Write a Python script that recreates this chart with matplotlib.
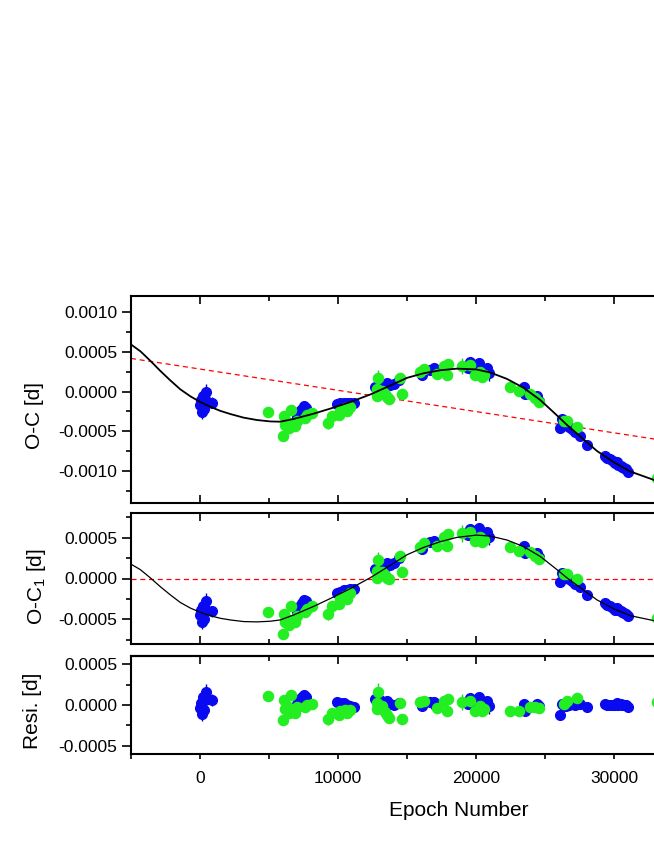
import matplotlib.pyplot as plt
import numpy as np
from matplotlib.ticker import MultipleLocator, FuncFormatter

plt.rcParams['font.family'] = ['Liberation Sans', 'DejaVu Sans']
plt.rcParams['mathtext.fontset'] = 'custom'
plt.rcParams['mathtext.rm'] = 'Liberation Sans'

# blue minima: epoch, O-C1 [d], error [d]
blue_E = [-30, 140, 380, 450, 250, 860, 300, 100,
          7510, 7270, 7025, 7400, 7700,
          9920, 10400, 10890, 11130, 10150, 10650,
          12700, 13540, 13300, 14030, 14400, 13800, 13050,
          16090, 16930, 17050, 16700,
          19590, 20190, 20800, 20920, 19830, 19400, 20500,
          23450, 23570, 24420, 24600,
          26110, 26230, 26350, 26710, 26950, 27200, 27560, 28040, 26500,
          29370, 29500, 29700, 29900, 30100, 30300, 30500, 30700, 30850, 30990, 30200, 30600]
blue_oc1 = [-0.00045, -0.00053, -0.00037, -0.00028, -0.00033, -0.00040, -0.00049, -0.00039,
            -0.000265, -0.000333, -0.000414, -0.00030, -0.00028,
            -0.000173, -0.000145, -0.000133, -0.000125, -0.00016, -0.00014,
            0.000116, 0.000189, 0.000088, 0.000189, 0.000249, 0.00017, 0.00015,
            0.000357, 0.000462, 0.00043, 0.00044,
            0.00061, 0.00062, 0.00057, 0.00051, 0.00051, 0.00053, 0.00054,
            0.0004, 0.00031, 0.00031, 0.00026,
            -0.000044, 0.00007, 0.00003, -0.00001, -0.00003, -0.00007, -0.0001, -0.0002, 0.00001,
            -0.000305, -0.000325, -0.00034, -0.00036, -0.00038, -0.00039, -0.0004, -0.00042, -0.00043,
            -0.000462, -0.00036, -0.00041]
blue_err = [0.00008, 0.00009, 0.00007, 0.0001, 0.00006, 0.00007, 0.00008, 0.00006,
            0.00003, 0.00004, 0.00003, 0.00003, 0.00003,
            0.00003, 0.00003, 0.00003, 0.00003, 0.00003, 0.00003,
            0.00005, 0.00004, 0.00005, 0.00003, 0.00003, 0.00004, 0.00005,
            0.00003, 0.00003, 0.00003, 0.00003,
            0.00003, 0.00003, 0.00003, 0.0001, 0.00004, 0.00003, 0.00003,
            0.00003, 0.00003, 0.00003, 0.00003,
            0.00003, 0.00004, 0.00003, 0.00003, 0.00003, 0.00003, 0.00003, 0.00003, 0.00003,
            0.00002, 0.00002, 0.00002, 0.00002, 0.00002, 0.00002, 0.00002, 0.00002, 0.00002,
            0.00002, 0.00002, 0.00002]

# green minima
green_E = [4925, 5990, 6180, 6590, 6060, 6420, 6900, 6300, 7750, 8110, 7630, 7000,
           9270, 9560, 10040, 10650, 10160, 10530, 10900,
           12870, 12820, 12820, 13540, 13660, 14520, 14640, 13170, 13400,
           15920, 16210, 17170, 17660, 17950, 17900,
           18985, 19590, 20310, 20550, 19950, 20430,
           22490, 23090, 23940, 24300, 24540,
           26350, 26590, 27320,
           33100]
green_oc1 = [-0.000414, -0.000683, -0.000534, -0.000333, -0.000434, -0.000566, -0.000534, -0.000494,
             -0.000373, -0.000333, -0.000414, -0.00046,
             -0.000434, -0.000333, -0.000313, -0.000245, -0.000253, -0.000213, -0.00018,
             0.000229, 0.000088, 0.000008, 0.000008, -0.000012, 0.000269, 0.00008, 0.00008, 0.00004,
             0.00039, 0.00043, 0.0004, 0.00051, 0.000542, 0.0004,
             0.00055, 0.00057, 0.00051, 0.00047, 0.00046, 0.00045,
             0.00038, 0.00034, 0.00032, 0.00028, 0.00024,
             0.00005, 0.00006, 0.0,
             -0.00048]
green_err = [0.00003, 0.00003, 0.00004, 0.00003, 0.00005, 0.00003, 0.00004, 0.00005,
             0.00003, 0.00003, 0.00003, 0.00006,
             0.00007, 0.00003, 0.00003, 0.00005, 0.00004, 0.00006, 0.00004,
             0.0001, 0.00005, 0.00004, 0.00003, 0.00003, 0.00004, 0.00005, 0.00006, 0.00005,
             0.00004, 0.00005, 0.00006, 0.00003, 0.00003, 0.00005,
             0.0001, 0.00005, 0.00006, 0.00004, 0.00005, 0.00004,
             0.00003, 0.00003, 0.00003, 0.00005, 0.00004,
             0.00003, 0.00003, 0.00003,
             0.00004]

# fitted curve of O-C1
fit_E = [-5000, -4320, -3600, -2875, -2150, -1425, -700, 0, 745, 1470, 2190, 3160,
         4125, 5090, 5815, 6780, 8230, 9440, 10890, 12340, 13780, 15000, 16210,
         17415, 18620, 20020, 21040, 22245, 23450, 24660, 25870, 26590, 27560,
         28765, 30020, 31180, 32870, 34000, 35000]
fit_oc1 = [0.000175, 0.000108, 0.000008, -0.0001, -0.0002, -0.000293, -0.000361, -0.000412,
           -0.000454, -0.000486, -0.000506, -0.000526, -0.00053, -0.000522, -0.000506,
           -0.000446, -0.000341, -0.000245, -0.000124, 0.00001, 0.00016, 0.00029,
           0.00038, 0.00045, 0.000502, 0.00053, 0.000518, 0.00047, 0.00039, 0.000269,
           0.000108, 0.000008, -0.000112, -0.000261, -0.000373, -0.000454, -0.000514,
           -0.00054, -0.00055]

# linear ephemeris correction (red dashed, top panel)
lin_E = [-5000, 35000]
lin_oc = [0.000416, -0.000652]

blue_E = np.array(blue_E)
green_E = np.array(green_E)
blue_oc1 = np.array(blue_oc1)
green_oc1 = np.array(green_oc1)
fit_E = np.array(fit_E)
fit_oc1 = np.array(fit_oc1)

blue_oc = blue_oc1 + np.interp(blue_E, lin_E, lin_oc)
green_oc = green_oc1 + np.interp(green_E, lin_E, lin_oc)
fit_oc = fit_oc1 + np.interp(fit_E, lin_E, lin_oc)
blue_res = blue_oc1 - np.interp(blue_E, fit_E, fit_oc1)
green_res = green_oc1 - np.interp(green_E, fit_E, fit_oc1)

BLUE = '#0a0af0'
BLUE_E = '#0000b0'
GREEN = '#22ee22'
GREEN_E = '#30c830'

fig = plt.figure(figsize=(6.54, 8.46), dpi=100)
W, H = 654.0, 846.0
left = 131 / W
width = (683 - 131) / W
ax1 = fig.add_axes([left, 1 - 503 / H, width, 207 / H])
ax2 = fig.add_axes([left, 1 - 644 / H, width, 131 / H])
ax3 = fig.add_axes([left, 1 - 754 / H, width, 98 / H])


def points(ax, yb, yg):
    ax.errorbar(blue_E, yb, yerr=blue_err, fmt='o', ms=7, mfc=BLUE, mec=BLUE,
                ecolor=BLUE_E, elinewidth=1, capsize=0, zorder=3)
    ax.errorbar(green_E, yg, yerr=green_err, fmt='o', ms=7.3, mfc=GREEN, mec=GREEN,
                ecolor=GREEN_E, elinewidth=1, capsize=0, zorder=4)


points(ax1, blue_oc, green_oc)
ax1.plot(fit_E, fit_oc, color='black', lw=1.3, zorder=5)
ax1.plot(lin_E, lin_oc, color='red', lw=0.9, ls=(0, (4, 3)), zorder=2)
ax1.set_ylim(-0.0014, 0.0012)

points(ax2, blue_oc1, green_oc1)
ax2.plot(fit_E, fit_oc1, color='black', lw=0.9, zorder=5)
ax2.axhline(0, color='red', lw=0.9, ls=(0, (4, 3)), zorder=2)
ax2.set_ylim(-0.0008, 0.0008)

points(ax3, blue_res, green_res)
ax3.set_ylim(-0.0006, 0.0006)

fmt = FuncFormatter(lambda v, p: '%.4f' % (0.0 if abs(v) < 1e-9 else v))
for ax in (ax1, ax2, ax3):
    ax.set_xlim(-5000, 35000)
    ax.xaxis.set_major_locator(MultipleLocator(10000))
    ax.xaxis.set_minor_locator(MultipleLocator(5000))
    ax.yaxis.set_major_locator(MultipleLocator(0.0005))
    ax.yaxis.set_minor_locator(MultipleLocator(0.00025))
    ax.yaxis.set_major_formatter(fmt)
    for s in ax.spines.values():
        s.set_linewidth(1.5)
    ax.tick_params(axis='y', which='major', direction='out', length=6.5, width=1.2,
                   pad=3.5, labelsize=12.5, right=False)
    ax.tick_params(axis='y', which='minor', direction='out', length=3.5, width=1.2, right=False)

for ax in (ax1, ax2):
    ax.tick_params(axis='x', which='both', direction='in', top=True, bottom=True,
                   labelbottom=False, width=1.2)
    ax.tick_params(axis='x', which='major', length=6)
    ax.tick_params(axis='x', which='minor', length=3.5)

ax3.tick_params(axis='x', which='both', direction='out', length=3.8, width=1.2,
                pad=8.5, labelsize=12.5)
top3 = ax3.secondary_xaxis('top')
top3.xaxis.set_major_locator(MultipleLocator(10000))
top3.xaxis.set_minor_locator(MultipleLocator(5000))
top3.tick_params(axis='x', which='both', direction='in', width=1.2, labeltop=False)
top3.tick_params(axis='x', which='major', length=6)
top3.tick_params(axis='x', which='minor', length=3.5)
top3.spines['top'].set_linewidth(1.5)

fig.text(35 / W, 1 - 415 / H, 'O-C [d]', rotation=90, ha='center', va='center', fontsize=15)
fig.text(36 / W, 1 - 587 / H, r'O-C$_\mathregular{1}$ [d]', rotation=90, ha='center',
         va='center', fontsize=15)
fig.text(33 / W, 1 - 711 / H, 'Resi. [d]', rotation=90, ha='center', va='center', fontsize=15)
fig.text(459 / W, 1 - 810 / H, 'Epoch Number', ha='center', va='center', fontsize=15)

fig.savefig('out.png', dpi=100)
